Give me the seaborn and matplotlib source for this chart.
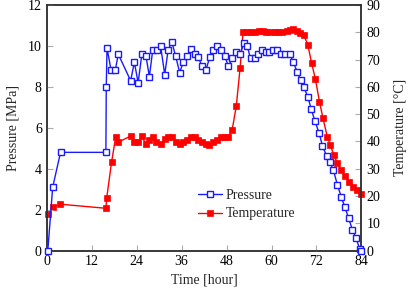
import matplotlib
matplotlib.use("Agg")
import matplotlib.pyplot as plt
import seaborn as sns
import pandas as pd

# ---- data ----
p_time = [0.3, 1.6, 3.7, 15.8, 15.9, 16.1, 17.2, 18.3, 19.1, 22.4, 23.4, 24.4, 25.4, 26.5,
          27.4, 28.3, 29.4, 30.4, 31.5, 32.4, 33.4, 34.4, 35.5, 36.4, 37.4, 38.4, 39.5, 40.5,
          41.4, 42.5, 43.5, 44.5, 45.4, 46.4, 47.5, 48.5, 49.5, 50.5, 51.6, 52.6, 53.5, 54.4,
          55.5, 56.4, 57.5, 58.6, 59.4, 60.5, 61.5, 62.6, 63.7, 64.8, 65.8, 66.8, 67.8, 68.6,
          69.7, 70.6, 71.6, 72.7, 73.6, 74.7, 75.6, 76.5, 77.6, 78.6, 79.6, 80.6, 81.6, 82.5,
          83.5, 83.8]
pressure = [0.0, 3.1, 4.8, 4.8, 8.0, 9.9, 8.8, 8.8, 9.6, 8.3, 9.2, 8.2, 9.6, 9.5,
            8.5, 9.8, 9.8, 10.0, 8.6, 9.8, 10.2, 9.5, 8.7, 9.2, 9.5, 9.83, 9.6, 9.45,
            9.02, 8.82, 9.45, 9.8, 10.0, 9.8, 9.52, 9.0, 9.4, 9.69, 9.6, 10.12, 10.0, 9.39,
            9.39, 9.6, 9.8, 9.69, 9.72, 9.8, 9.8, 9.6, 9.6, 9.6, 9.23, 8.74, 8.33, 7.98,
            7.52, 6.9, 6.33, 5.73, 5.12, 4.62, 4.31, 3.93, 3.2, 2.63, 2.11, 1.57, 1.0, 0.63,
            0.1, 0.0]

t_time = [0.3, 1.6, 3.6, 15.8, 16.0, 17.3, 18.4, 19.1, 22.4, 23.4, 24.4, 25.4, 26.4, 27.4,
          28.3, 29.3, 30.5, 31.5, 32.4, 33.5, 34.5, 35.5, 36.4, 37.5, 38.5, 39.5, 40.5, 41.4,
          42.4, 43.4, 44.5, 45.5, 46.4, 47.5, 48.5, 49.5, 50.6, 51.6, 52.4, 53.5, 54.5, 55.6,
          56.6, 57.6, 58.6, 59.7, 60.8, 61.8, 62.9, 64.0, 65.0, 65.8, 66.7, 67.6, 68.6, 69.7,
          70.7, 71.7, 72.8, 73.7, 74.9, 75.7, 76.6, 77.6, 78.6, 79.7, 80.7, 81.7, 82.8, 83.8]
temperature = [13.3, 15.8, 17.0, 15.5, 19.1, 32.3, 41.5, 39.7, 42.0, 39.8, 39.8, 42.0, 39.1, 40.4,
               41.5, 39.9, 39.1, 40.9, 41.7, 41.5, 39.9, 39.1, 39.7, 40.5, 41.7, 41.7, 40.5, 39.7,
               39.0, 38.7, 39.7, 40.5, 41.5, 41.7, 41.5, 44.3, 53.0, 66.8, 80.0, 80.0, 80.2, 80.2,
               80.5, 80.5, 80.2, 80.0, 80.0, 80.2, 80.2, 80.5, 80.9, 81.3, 80.6, 79.8, 79.1, 75.3,
               68.7, 62.9, 54.5, 48.7, 41.6, 38.7, 35.0, 32.0, 29.4, 27.4, 25.3, 23.4, 22.2, 20.6]

x_ticks = [0, 12, 24, 36, 48, 60, 72, 84]
p_ticks = [0, 2, 4, 6, 8, 10, 12]
t_ticks = [0, 10, 20, 30, 40, 50, 60, 70, 80, 90]

# ---- style ----
sns.set_theme(style="ticks")
plt.rcParams['font.family'] = ['Liberation Serif', 'DejaVu Serif']
plt.rcParams['font.size'] = 10
plt.rcParams['xtick.direction'] = 'in'
plt.rcParams['ytick.direction'] = 'in'

fig = plt.figure(figsize=(4.15, 3.03), dpi=100)
ax = fig.add_axes([0.1125, 0.173, 0.7585, 0.8105])
ax2 = ax.twinx()

dfp = pd.DataFrame({"Time": p_time, "Pressure": pressure})
dft = pd.DataFrame({"Time": t_time, "Temperature": temperature})

sns.lineplot(data=dfp, x="Time", y="Pressure", ax=ax, color="#1a1aff", lw=1.0,
             marker="s", markersize=4.4, markerfacecolor="white",
             markeredgecolor="#1a1aff", markeredgewidth=1.0, label="Pressure",
             legend=False, clip_on=False, zorder=3)
sns.lineplot(data=dft, x="Time", y="Temperature", ax=ax2, color="#ff0000", lw=1.0,
             marker="s", markersize=5.0, markerfacecolor="#ff0000",
             markeredgecolor="#ff0000", markeredgewidth=0.5, label="Temperature",
             legend=False, clip_on=False, zorder=2)

ax.set_zorder(ax2.get_zorder() + 1)
ax.patch.set_visible(False)

ax.set_xlim(0, 84)
ax.set_ylim(0, 12)
ax2.set_ylim(0, 90)
ax.set_xticks(x_ticks)
ax.set_yticks(p_ticks)
ax2.set_yticks(t_ticks)

ax.set_xlabel("Time [hour]", fontsize=10)
ax.set_ylabel("Pressure [MPa]", fontsize=10, labelpad=6)
ax2.set_ylabel("Temperature [°C]", fontsize=10, labelpad=10)

for a in (ax, ax2):
    for s in a.spines.values():
        s.set_visible(True)
        s.set_color("#333333")
        s.set_linewidth(1.1)
    a.tick_params(axis='both', length=4, width=0.8, color="#aaaaaa",
                  labelsize=10, labelcolor="black")
ax.tick_params(axis='y', right=False)
ax2.tick_params(axis='y', left=False)

h1, l1 = ax.get_legend_handles_labels()
h2, l2 = ax2.get_legend_handles_labels()
ax.legend(h1 + h2, l1 + l2, loc="center left", bbox_to_anchor=(0.44, 0.187),
          frameon=False, fontsize=10, handlelength=1.75, handletextpad=0.25,
          labelspacing=0.4)

fig.savefig("out.png", dpi=100)
